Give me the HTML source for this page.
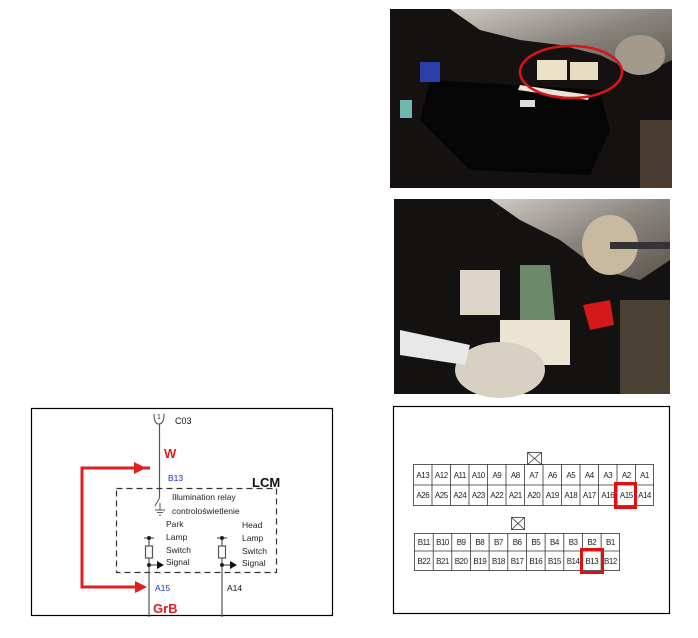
<!DOCTYPE html>
<html><head><style>
html,body{margin:0;padding:0;background:#fff;}
body{width:698px;height:633px;position:relative;overflow:hidden;font-family:"Liberation Sans",Arial,sans-serif;}
svg text{font-family:"Liberation Sans",Arial,sans-serif;}
</style></head><body>
<svg width="698" height="633" viewBox="0 0 698 633" xmlns="http://www.w3.org/2000/svg">
<defs>
<linearGradient id="met" x1="0" y1="0" x2="1" y2="1"><stop offset="0" stop-color="#cfcac2"/><stop offset="0.5" stop-color="#8a857e"/><stop offset="1" stop-color="#5a544c"/></linearGradient>
</defs>
<!-- Photo 1 -->
<g>
<rect x="390" y="9" width="282" height="179" fill="#151110"/>
<path d="M450 9 L672 9 L672 60 L640 75 L600 55 L560 45 L520 40 L480 30 Z" fill="url(#met)"/>
<ellipse cx="640" cy="55" rx="25" ry="20" fill="#a49a8c"/>
<path d="M430 80 L600 90 L610 130 L590 175 L470 170 L420 120 Z" fill="#050505"/>
<rect x="520" y="100" width="15" height="7" fill="#ddd"/>
<path d="M520 85 L590 95 L588 100 L518 90 Z" fill="#e8e4dc"/>
<rect x="537" y="60" width="30" height="20" fill="#ede2c8"/>
<rect x="570" y="62" width="28" height="18" fill="#e6dcc2"/>
<ellipse cx="571" cy="72" rx="51" ry="26" fill="none" stroke="#d8141a" stroke-width="2.5"/>
<rect x="420" y="62" width="20" height="20" fill="#2a3ea8"/>
<rect x="400" y="100" width="12" height="18" fill="#6fb8b0"/>
<rect x="640" y="120" width="32" height="68" fill="#4a3c30"/>
</g>
<!-- Photo 2 -->
<g>
<rect x="394" y="199" width="276" height="195" fill="#141210"/>
<path d="M490 199 L670 199 L670 260 L640 280 L600 270 L560 240 L520 220 Z" fill="url(#met)"/>
<ellipse cx="610" cy="245" rx="28" ry="30" fill="#c9b9a0"/>
<rect x="610" y="242" width="60" height="7" fill="#333"/>
<rect x="460" y="270" width="40" height="45" fill="#ddd6c8"/>
<path d="M520 265 L550 265 L555 320 L520 320 Z" fill="#6a8a6a"/>
<rect x="500" y="320" width="70" height="45" fill="#ece4d2"/>
<path d="M583 305 L610 300 L614 325 L590 330 Z" fill="#d51818"/>
<ellipse cx="500" cy="370" rx="45" ry="28" fill="#d8d0c2"/>
<path d="M400 330 L470 345 L465 365 L400 355 Z" fill="#e8e8e8"/>
<rect x="620" y="300" width="50" height="94" fill="#4a4034"/>
</g>
<!-- Left diagram -->
<rect x="31.5" y="408.5" width="301" height="207" fill="#fff" stroke="#000" stroke-width="1.2"/>
<path d="M154 414 Q154 424 159 424 Q164 424 164 414" fill="none" stroke="#444" stroke-width="1"/>
<text x="157" y="419" font-size="7" fill="#333">1</text>
<text x="175" y="424" font-size="9" fill="#111">C03</text>
<line x1="159.5" y1="424" x2="159.5" y2="498" stroke="#555" stroke-width="1.2"/>
<line x1="159.5" y1="498" x2="155" y2="506" stroke="#555" stroke-width="1"/>
<line x1="160" y1="503" x2="160" y2="510" stroke="#555" stroke-width="1"/>
<line x1="155" y1="510" x2="165" y2="510" stroke="#555"/>
<line x1="157" y1="512.5" x2="163" y2="512.5" stroke="#555"/>
<line x1="159" y1="515" x2="161" y2="515" stroke="#555"/>
<text x="164" y="458" font-size="13" font-weight="bold" fill="#e02020">W</text>
<text x="168" y="481" font-size="8.5" fill="#1a2ec0">B13</text>
<text x="252" y="487" font-size="13" font-weight="bold" fill="#111">LCM</text>
<rect x="116.5" y="488.5" width="160" height="84" fill="none" stroke="#333" stroke-width="1.2" stroke-dasharray="6,4"/>
<text x="172" y="500" font-size="8.5" fill="#222">Illumination relay</text>
<text x="172" y="514" font-size="8.5" fill="#222">controloświetlenie</text>
<g font-size="8.5" fill="#222">
<text x="166" y="527">Park</text><text x="166" y="540">Lamp</text><text x="166" y="553">Switch</text><text x="166" y="565">Signal</text>
<text x="242" y="528">Head</text><text x="242" y="541">Lamp</text><text x="242" y="554">Switch</text><text x="242" y="566">Signal</text>
</g>
<g stroke="#555" stroke-width="1.2" fill="none">
<line x1="149" y1="538" x2="149" y2="617"/>
<line x1="222" y1="538" x2="222" y2="617"/>
<line x1="144" y1="538" x2="154" y2="538"/>
<line x1="217" y1="538" x2="227" y2="538"/>
<rect x="145.5" y="546" width="7" height="12" fill="#fff"/>
<rect x="218.5" y="546" width="7" height="12" fill="#fff"/>
<line x1="149" y1="565" x2="158" y2="565"/>
<line x1="222" y1="565" x2="231" y2="565"/>
</g>
<circle cx="149" cy="538" r="2" fill="#222"/><circle cx="149" cy="565" r="2" fill="#222"/>
<circle cx="222" cy="538" r="2" fill="#222"/><circle cx="222" cy="565" r="2" fill="#222"/>
<path d="M157 561 L164 565 L157 569 Z" fill="#111"/>
<path d="M230 561 L237 565 L230 569 Z" fill="#111"/>
<text x="155" y="591" font-size="8.5" fill="#1a2ec0">A15</text>
<text x="227" y="591" font-size="8.5" fill="#111">A14</text>
<text x="153" y="613" font-size="13" font-weight="bold" fill="#e02020">GrB</text>
<path d="M150 468 L82 468 L82 587 L140 587" fill="none" stroke="#e02020" stroke-width="3"/>
<path d="M146 468 L134 462 L134 474 Z" fill="#e02020"/>
<path d="M147 587 L135 581 L135 593 Z" fill="#e02020"/>
<!-- Right diagram -->
<rect x="393.5" y="406.5" width="276" height="207" fill="#fff" stroke="#000" stroke-width="1.2"/>
<g stroke="#333" stroke-width="0.8" fill="none">
<rect x="413.5" y="464.5" width="240" height="41"/>
<line x1="413.5" y1="485" x2="653.5" y2="485"/>
<rect x="414.5" y="533.5" width="205" height="37"/>
<line x1="414.5" y1="551" x2="619.5" y2="551"/>
<rect x="527.5" y="452.5" width="14" height="12"/>
<line x1="527.5" y1="452.5" x2="541.5" y2="464.5"/><line x1="541.5" y1="452.5" x2="527.5" y2="464.5"/>
<rect x="511.5" y="517.5" width="13" height="12"/>
<line x1="511.5" y1="517.5" x2="524.5" y2="529.5"/><line x1="524.5" y1="517.5" x2="511.5" y2="529.5"/>
</g>
<g id="vl" stroke="#333" stroke-width="0.8">
<line x1="432" y1="464" x2="432" y2="505"/><line x1="450.5" y1="464" x2="450.5" y2="505"/><line x1="469" y1="464" x2="469" y2="505"/><line x1="487.5" y1="464" x2="487.5" y2="505"/><line x1="506" y1="464" x2="506" y2="505"/><line x1="524.5" y1="464" x2="524.5" y2="505"/><line x1="543" y1="464" x2="543" y2="505"/><line x1="561.5" y1="464" x2="561.5" y2="505"/><line x1="580" y1="464" x2="580" y2="505"/><line x1="598.5" y1="464" x2="598.5" y2="505"/><line x1="617" y1="464" x2="617" y2="505"/><line x1="635.5" y1="464" x2="635.5" y2="505"/>
<line x1="433.2" y1="533" x2="433.2" y2="570"/><line x1="451.8" y1="533" x2="451.8" y2="570"/><line x1="470.5" y1="533" x2="470.5" y2="570"/><line x1="489.1" y1="533" x2="489.1" y2="570"/><line x1="507.8" y1="533" x2="507.8" y2="570"/><line x1="526.5" y1="533" x2="526.5" y2="570"/><line x1="545.1" y1="533" x2="545.1" y2="570"/><line x1="563.8" y1="533" x2="563.8" y2="570"/><line x1="582.5" y1="533" x2="582.5" y2="570"/><line x1="601.1" y1="533" x2="601.1" y2="570"/>
</g>
<g font-size="8" fill="#222" text-anchor="middle" letter-spacing="-0.5">
<text x="422.8" y="478">A13</text><text x="441.3" y="478">A12</text><text x="459.8" y="478">A11</text><text x="478.3" y="478">A10</text><text x="496.8" y="478">A9</text><text x="515.3" y="478">A8</text><text x="533.8" y="478">A7</text><text x="552.3" y="478">A6</text><text x="570.8" y="478">A5</text><text x="589.3" y="478">A4</text><text x="607.8" y="478">A3</text><text x="626.3" y="478">A2</text><text x="644.5" y="478">A1</text>
<text x="422.8" y="498">A26</text><text x="441.3" y="498">A25</text><text x="459.8" y="498">A24</text><text x="478.3" y="498">A23</text><text x="496.8" y="498">A22</text><text x="515.3" y="498">A21</text><text x="533.8" y="498">A20</text><text x="552.3" y="498">A19</text><text x="570.8" y="498">A18</text><text x="589.3" y="498">A17</text><text x="607.8" y="498">A16</text><text x="626.3" y="498">A15</text><text x="644.5" y="498">A14</text>
<text x="423.8" y="545">B11</text><text x="442.5" y="545">B10</text><text x="461.1" y="545">B9</text><text x="479.8" y="545">B8</text><text x="498.4" y="545">B7</text><text x="517.1" y="545">B6</text><text x="535.8" y="545">B5</text><text x="554.4" y="545">B4</text><text x="573.1" y="545">B3</text><text x="591.8" y="545">B2</text><text x="610.4" y="545">B1</text>
<text x="423.8" y="564">B22</text><text x="442.5" y="564">B21</text><text x="461.1" y="564">B20</text><text x="479.8" y="564">B19</text><text x="498.4" y="564">B18</text><text x="517.1" y="564">B17</text><text x="535.8" y="564">B16</text><text x="554.4" y="564">B15</text><text x="573.1" y="564">B14</text><text x="591.8" y="564">B13</text><text x="610.4" y="564">B12</text>
</g>
<rect x="615.5" y="483.5" width="20" height="24" fill="none" stroke="#e01010" stroke-width="3"/>
<rect x="581.5" y="549.5" width="21" height="23" fill="none" stroke="#e01010" stroke-width="3"/>
</svg>
</body></html>
